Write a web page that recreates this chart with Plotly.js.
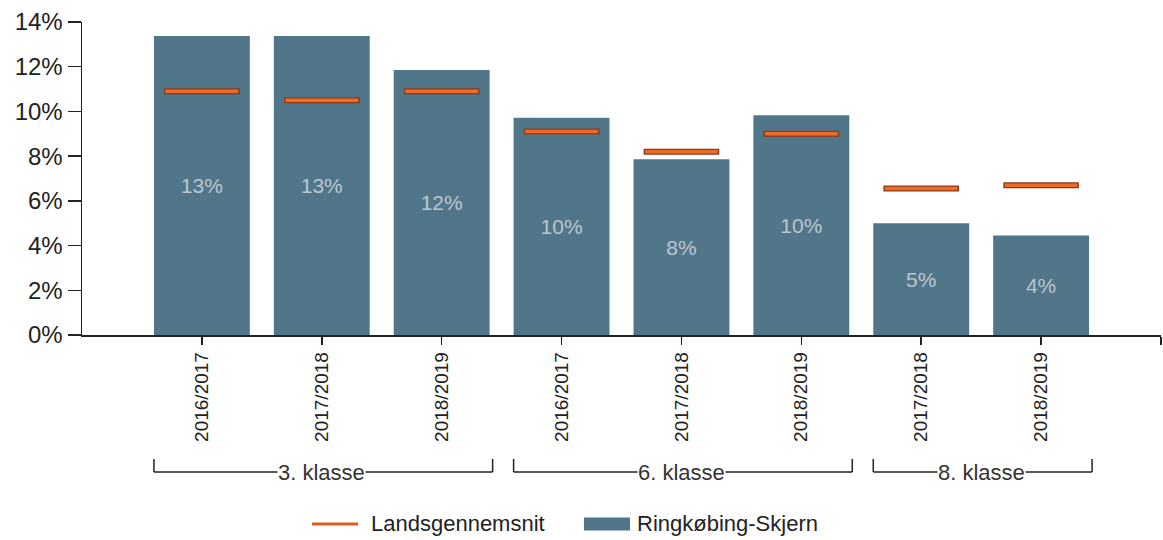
<!DOCTYPE html>
<html>
<head>
<meta charset="utf-8">
<script src="https://cdn.plot.ly/plotly-3.0.1.min.js"></script>
<style>
  html, body { margin: 0; padding: 0; background: #ffffff; }
  #chart { width: 1163px; height: 540px; }
</style>
</head>
<body>
<div id="chart"></div>
<script>
// ---- data ----
const categories = ['2016/2017', '2017/2018', '2018/2019', '2016/2017', '2017/2018', '2018/2019', '2017/2018', '2018/2019'];
const grades = ['3. klasse', '3. klasse', '3. klasse', '6. klasse', '6. klasse', '6. klasse', '8. klasse', '8. klasse'];
const ringkobingSkjern = [13.37, 13.37, 11.85, 9.72, 7.86, 9.83, 5.0, 4.45];
const landsgennemsnit = [10.9, 10.5, 10.9, 9.1, 8.2, 9.0, 6.55, 6.7];
const yTicks = [0, 2, 4, 6, 8, 10, 12, 14];
const seriesNames = ['Landsgennemsnit', 'Ringkøbing-Skjern'];

// ---- styling ----
const FONT = 'Liberation Sans, Arial, sans-serif';
const BAR_COLOR = '#517689';
const ORANGE = '#ee6a26';
const ORANGE_EDGE = '#8a3b17';
const LEGEND_ORANGE = '#dd5a22';
const TEXT = '#222222';

const xIdx = categories.map((c, i) => i);

const traces = [
  {
    type: 'bar', x: xIdx, y: ringkobingSkjern, width: 0.8, name: seriesNames[1],
    marker: { color: BAR_COLOR, line: { width: 0 } },
    texttemplate: '%{y:.0f}%', textposition: 'inside', insidetextanchor: 'middle',
    textangle: 0, textfont: { family: FONT, size: 21, color: '#b9c6ce' },
    hoverinfo: 'skip'
  },
  {
    type: 'scatter', mode: 'markers', x: xIdx, y: landsgennemsnit, name: seriesNames[0],
    marker: { symbol: 'line-ew', size: 54, color: ORANGE_EDGE, line: { width: 6, color: ORANGE_EDGE } },
    hoverinfo: 'skip'
  },
  {
    type: 'scatter', mode: 'markers', x: xIdx, y: landsgennemsnit, name: seriesNames[0],
    marker: { symbol: 'line-ew', size: 52, color: ORANGE, line: { width: 3.5, color: ORANGE } },
    hoverinfo: 'skip'
  }
];

// ---- group brackets ----
const groupNames = [...new Set(grades)];
const BR_Y = -0.4377, BR_TOP = -0.396;
const shapes = [], annotations = [];
groupNames.forEach(g => {
  const idx = xIdx.filter(i => grades[i] === g);
  const a = Math.min(...idx) - 0.4, b = Math.max(...idx) + 0.425;
  const ln = { color: TEXT, width: 1.5 };
  shapes.push({ type: 'line', xref: 'x', yref: 'paper', x0: a, x1: b, y0: BR_Y, y1: BR_Y, line: ln });
  shapes.push({ type: 'line', xref: 'x', yref: 'paper', x0: a, x1: a, y0: BR_TOP, y1: BR_Y, line: ln });
  shapes.push({ type: 'line', xref: 'x', yref: 'paper', x0: b, x1: b, y0: BR_TOP, y1: BR_Y, line: ln });
  annotations.push({
    xref: 'x', yref: 'paper', x: (Math.min(...idx) + Math.max(...idx)) / 2, y: BR_Y - 0.003,
    text: g, showarrow: false, xanchor: 'center', yanchor: 'middle',
    bgcolor: '#ffffff', borderpad: 0,
    font: { family: FONT, size: 22, color: '#333333' }
  });
});

// ---- legend (drawn manually to match the reference's wide symbols) ----
const LEG_Y = -0.6038;
shapes.push({ type: 'line', xref: 'paper', yref: 'paper', x0: 0.2132, x1: 0.2558, y0: LEG_Y, y1: LEG_Y,
  line: { color: LEGEND_ORANGE, width: 3 } });
annotations.push({ xref: 'paper', yref: 'paper', x: 0.2669, y: LEG_Y, xanchor: 'left', yanchor: 'middle',
  text: seriesNames[0], showarrow: false, borderpad: 0, font: { family: FONT, size: 22, color: TEXT } });
shapes.push({ type: 'rect', xref: 'paper', yref: 'paper', x0: 0.4652, x1: 0.5079, y0: -0.5830, y1: -0.6246,
  line: { width: 0 }, fillcolor: BAR_COLOR });
annotations.push({ xref: 'paper', yref: 'paper', x: 0.5134, y: LEG_Y, xanchor: 'left', yanchor: 'middle',
  text: seriesNames[1], showarrow: false, borderpad: 0, font: { family: FONT, size: 22, color: TEXT } });

const layout = {
  width: 1163, height: 540,
  margin: { l: 82, r: 2, t: 22, b: 205 },
  paper_bgcolor: '#ffffff', plot_bgcolor: '#ffffff',
  font: { family: FONT, color: TEXT },
  showlegend: false,
  xaxis: {
    range: [-1, 8], tickmode: 'array',
    tickvals: xIdx.concat([categories.length]),
    ticktext: categories.concat(['']),
    tickangle: -90, ticks: 'outside', ticklen: 8, tickwidth: 1.5, tickcolor: TEXT,
    showline: true, linecolor: TEXT, linewidth: 1.5,
    showgrid: false, zeroline: false,
    tickfont: { family: FONT, size: 19, color: TEXT }
  },
  yaxis: {
    range: [0, 14], tickmode: 'array', tickvals: yTicks,
    ticktext: yTicks.map(v => v + '%'),
    ticks: 'outside', ticklen: 13, tickwidth: 1.5, tickcolor: TEXT,
    showline: true, linecolor: TEXT, linewidth: 1.5,
    showgrid: false, zeroline: false,
    tickfont: { family: FONT, size: 24, color: TEXT }
  },
  shapes: shapes,
  annotations: annotations
};

Plotly.newPlot('chart', traces, layout, { displayModeBar: false, staticPlot: true });
</script>
</body>
</html>
